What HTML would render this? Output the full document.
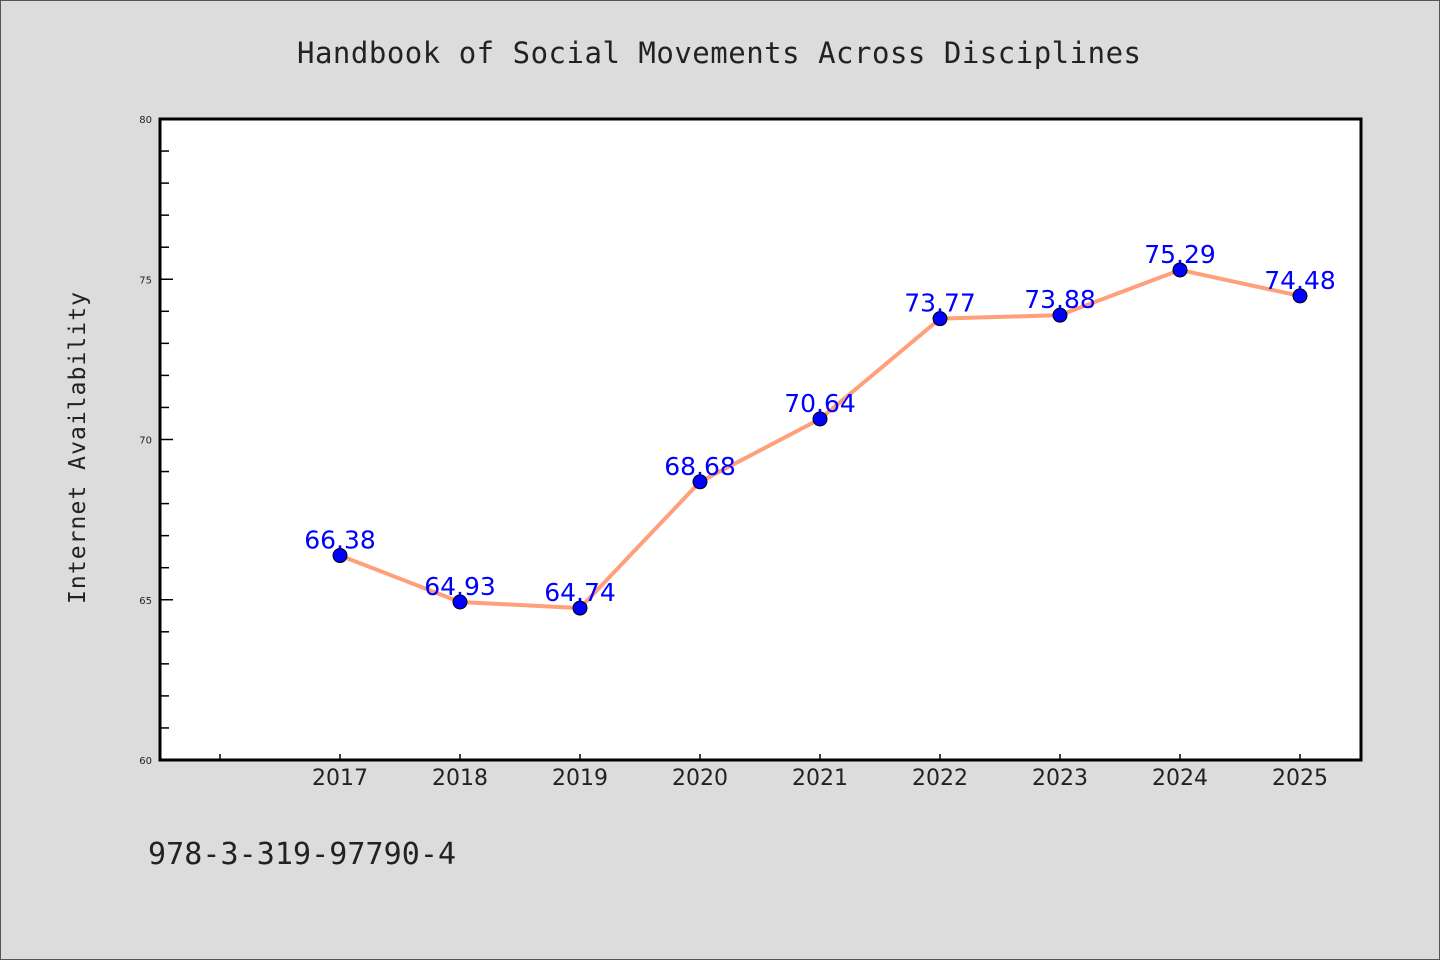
<!DOCTYPE html>
<html><head><meta charset="utf-8"><style>
html,body{margin:0;padding:0;background:#dcdcdc;}
svg{display:block;}
</style></head><body>
<svg id="chart" width="1440" height="960" xmlns="http://www.w3.org/2000/svg">
<rect x="0.5" y="0.5" width="1439" height="959" fill="#dcdcdc" stroke="#555"/>
<text x="719" y="63" text-anchor="middle" font-family="'DejaVu Sans Mono','Liberation Mono',monospace" font-size="29" fill="#222" textLength="844" lengthAdjust="spacing">Handbook of Social Movements Across Disciplines</text>
<rect x="160" y="119" width="1201" height="641" fill="#fff"/>
<g id="ticks"></g>
<g id="series"></g>
<rect x="160" y="119" width="1201" height="641" fill="none" stroke="#000" stroke-width="3"/>
<text transform="translate(85,448) rotate(-90)" text-anchor="middle" font-family="'DejaVu Sans Mono','Liberation Mono',monospace" font-size="23" fill="#222" textLength="312" lengthAdjust="spacing">Internet Availability</text>
<text x="148" y="864" font-family="'DejaVu Sans Mono','Liberation Mono',monospace" font-size="30" fill="#222" textLength="308" lengthAdjust="spacing">978-3-319-97790-4</text>
</svg>
<script>
const categories = ["2017","2018","2019","2020","2021","2022","2023","2024","2025"];
const values = [66.38,64.93,64.74,68.68,70.64,73.77,73.88,75.29,74.48];
const yTickLabels = [60,65,70,75,80];
const yMin = 60, yMax = 80;
const NS = "http://www.w3.org/2000/svg";
function xPos(i){ return 340 + i*120; }
function yPos(v){ return 760 - (v - yMin)/(yMax - yMin)*641; }
function mk(tag, attrs, parent){ const e=document.createElementNS(NS,tag); for(const k in attrs) e.setAttribute(k,attrs[k]); parent.appendChild(e); return e; }
const tg=document.getElementById('ticks'), sg=document.getElementById('series');
for(let v=yMin; v<=yMax; v++){
  const major = yTickLabels.includes(v);
  const t = mk('line',{x1:160,x2:major?173:169,y1:yPos(v),y2:yPos(v),stroke:'#000','stroke-width':1.5},tg);
  
  
}
yTickLabels.forEach(v=>{
  const t=mk('text',{x:152,y:yPos(v)+4,'text-anchor':'end','font-family':"'DejaVu Sans',sans-serif",'font-size':10,fill:'#222'},tg);
  t.textContent=v;
  
  
});
for(let i=-1;i<categories.length;i++){
  const t=mk('line',{x1:xPos(i),x2:xPos(i),y1:760,y2:754,stroke:'#000','stroke-width':1.5},tg);
  
  
}
categories.forEach((c,i)=>{
  const t=mk('text',{x:xPos(i),y:785,'text-anchor':'middle','font-family':"'DejaVu Sans',sans-serif",'font-size':22,fill:'#222'},tg);
  t.textContent=c;
  
  
});
const line=mk('polyline',{points:values.map((v,i)=>xPos(i)+','+yPos(v)).join(' '),fill:'none',stroke:'#ffa07a','stroke-width':4,'stroke-linejoin':'round'},sg);


values.forEach((v,i)=>{
  const c=mk('circle',{cx:xPos(i),cy:yPos(v),r:7,fill:'#0000ff',stroke:'#000','stroke-width':1},sg);
  
  
  const t=mk('text',{x:xPos(i),y:yPos(v)-7,'text-anchor':'middle','font-family':"'DejaVu Sans',sans-serif",'font-size':25,fill:'#0000ff'},sg);
  t.textContent=v.toFixed(2);
  
  
});
</script>
</body></html>
